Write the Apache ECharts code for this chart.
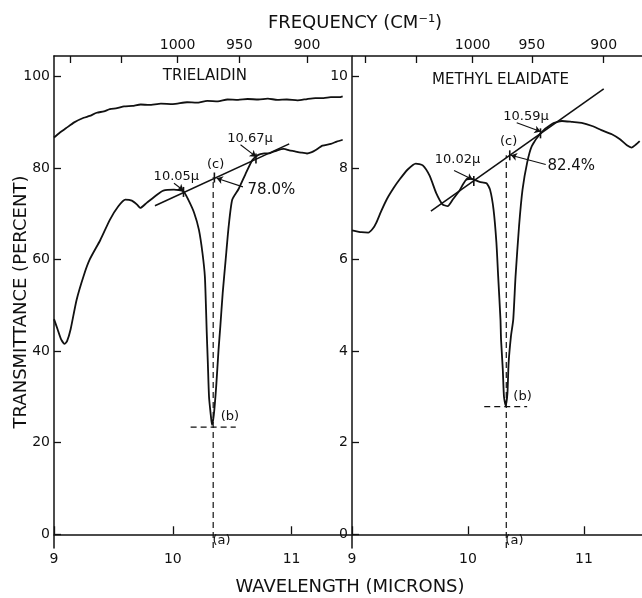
<!DOCTYPE html>
<html>
<head>
<meta charset="utf-8">
<title>Trielaidin / Methyl elaidate IR bands</title>
<script src="https://cdn.jsdelivr.net/npm/echarts@6/dist/echarts.min.js"></script>
<style>
  html, body { margin: 0; padding: 0; background: #fff; }
  #chart { width: 642px; height: 598px; }
</style>
</head>
<body>
<div id="chart"></div>
<script>
// axis ticks
const wavelengthTicks = [9, 10, 11];
const percentTicks = [0, 20, 40, 60, 80, 100];
const methylTicks = [0, 2, 4, 6, 8, 10];
const freqValues = [1100, 1050, 1000, 950, 900];
const freqShown = [1000, 950, 900];
// where each frequency tick sits on the wavelength scale
const freqAtLeft = [9.135, 9.565, 10.04, 10.56, 11.13];
const freqAtRight = [9.11, 9.557, 10.04, 10.55, 11.17];

// Trielaidin (left panel), [wavelength, transmittance %]
const trielaidinBlank = [
  [9.0, 86.7], [9.05, 87.8], [9.1, 88.7], [9.17, 90.0], [9.25, 91.0], [9.3, 91.4],
  [9.36, 92.1], [9.42, 92.4], [9.47, 92.9], [9.53, 93.1], [9.59, 93.5], [9.66, 93.6],
  [9.73, 93.9], [9.8, 93.8], [9.9, 94.1], [10.0, 94.0], [10.12, 94.4], [10.2, 94.3],
  [10.29, 94.7], [10.38, 94.6], [10.46, 95.0], [10.55, 94.9], [10.63, 95.1], [10.72, 95.0],
  [10.8, 95.2], [10.88, 94.9], [10.96, 95.0], [11.05, 94.8], [11.13, 95.1], [11.2, 95.3],
  [11.27, 95.3], [11.33, 95.5], [11.4, 95.5], [11.43, 95.7]
];
const trielaidin = [
  [9.0, 47.0], [9.03, 44.8], [9.06, 42.6], [9.09, 41.6], [9.11, 42.2], [9.14, 44.8],
  [9.19, 51.2], [9.25, 56.5], [9.3, 60.0], [9.39, 64.3], [9.47, 68.7], [9.54, 71.6],
  [9.6, 73.1], [9.655, 72.9], [9.7, 72.0], [9.726, 71.3], [9.78, 72.4], [9.867, 74.2],
  [9.92, 75.1], [10.01, 75.3], [10.09, 74.9], [10.13, 73.1], [10.18, 70.2], [10.22, 66.5],
  [10.25, 61.4], [10.27, 56.3], [10.28, 49.0], [10.285, 44.6], [10.295, 37.4], [10.305, 30.0],
  [10.32, 26.0], [10.33, 23.9], [10.345, 26.0], [10.365, 32.2], [10.385, 40.3], [10.40, 45.4],
  [10.42, 52.7], [10.445, 60.0], [10.47, 67.2], [10.50, 73.1], [10.555, 75.5], [10.61, 78.6],
  [10.67, 81.8], [10.72, 82.9], [10.77, 83.2], [10.82, 83.3], [10.88, 83.9], [10.935, 84.2],
  [10.98, 83.9], [11.02, 83.7], [11.08, 83.4], [11.13, 83.2], [11.17, 83.5], [11.2, 83.9],
  [11.26, 84.9], [11.33, 85.3], [11.38, 85.8], [11.43, 86.2]
];
const trielaidinBaseline = [[9.85, 71.8], [10.98, 85.3]];
const trielaidinCrosses = [[10.09, 74.8], [10.35, 77.95], [10.70, 82.1]];
const trielaidinDrop = [[10.34, -3], [10.34, 78.0]];
const trielaidinFloor = [[10.15, 23.4], [10.53, 23.4]];

// Methyl elaidate (right panel), transmittance on the 0-10 scale
const methyl = [
  [9.0, 6.64], [9.04, 6.62], [9.08, 6.60], [9.14, 6.59], [9.18, 6.68], [9.21, 6.81],
  [9.25, 7.05], [9.30, 7.32], [9.36, 7.57], [9.41, 7.75], [9.48, 7.97], [9.55, 8.10],
  [9.61, 8.06], [9.67, 7.83], [9.725, 7.46], [9.78, 7.21], [9.825, 7.17], [9.87, 7.32],
  [9.925, 7.50], [9.96, 7.66], [10.0, 7.78], [10.04, 7.76], [10.1, 7.70], [10.16, 7.67],
  [10.19, 7.53], [10.22, 7.10], [10.245, 6.37], [10.26, 5.64], [10.28, 4.69], [10.285, 4.25],
  [10.30, 3.60], [10.31, 3.01], [10.325, 2.81], [10.34, 3.08], [10.35, 3.74], [10.37, 4.32],
  [10.39, 4.69], [10.41, 5.64], [10.44, 6.73], [10.47, 7.53], [10.51, 8.12], [10.55, 8.48],
  [10.625, 8.76], [10.72, 8.96], [10.81, 9.03], [10.90, 9.01], [10.98, 8.99], [11.07, 8.92],
  [11.15, 8.83], [11.24, 8.74], [11.31, 8.63], [11.37, 8.50], [11.41, 8.45], [11.45, 8.52],
  [11.48, 8.59]
];
const methylBaseline = [[9.68, 7.06], [11.17, 9.73]];
const methylCrosses = [[10.05, 7.72], [10.36, 8.28], [10.625, 8.76]];
const methylDrop = [[10.33, -0.3], [10.33, 8.28]];
const methylFloor = [[10.14, 2.79], [10.51, 2.79]];

// annotations: [wavelength, value, text]
const trielaidinTitle = [[10.27, 100, 'TRIELAIDIN']];
const trielaidinMicrons = [[10.03, 78.1, '10.05µ'], [10.65, 86.4, '10.67µ']];
const trielaidinPercent = [[10.83, 75.3, '78.0%']];
const trielaidinLetters = [[10.36, 80.7, '(c)'], [10.48, 25.6, '(b)'], [10.41, -1.4, '(a)']];
const trielaidinArrows = [
  [[10.01, 76.7], [10.09, 75.1]],
  [[10.57, 85.1], [10.70, 82.5]],
  [[10.59, 75.9], [10.37, 77.8]]
];

const methylTitle = [[10.28, 9.93, 'METHYL ELAIDATE']];
const methylMicrons = [[9.91, 8.19, '10.02µ'], [10.50, 9.13, '10.59µ']];
const methylPercent = [[10.89, 8.04, '82.4%']];
const methylLetters = [[10.35, 8.59, '(c)'], [10.47, 3.01, '(b)'], [10.40, -0.14, '(a)']];
const methylArrows = [
  [[9.88, 7.95], [10.04, 7.75]],
  [[10.42, 8.99], [10.625, 8.80]],
  [[10.67, 8.08], [10.37, 8.28]]
];

const FONT = 'DejaVu Sans';
const INK = '#111';

const bottomAxis = (gridIndex) => ({
  type: 'value', gridIndex, position: 'bottom', min: 9, max: 11.5,
  axisLine: { lineStyle: { color: INK, width: 1.5 } },
  axisTick: { inside: true, length: 8, lineStyle: { color: INK, width: 1.3 }, customValues: wavelengthTicks },
  axisLabel: { customValues: wavelengthTicks, color: INK, fontSize: 14, fontFamily: FONT, margin: 4 },
  splitLine: { show: false }
});

const topAxis = (gridIndex, positions) => ({
  type: 'value', gridIndex, position: 'top', min: 9, max: 11.5,
  axisLine: { lineStyle: { color: INK, width: 1.5 } },
  axisTick: { inside: true, length: 7, lineStyle: { color: INK, width: 1.3 }, customValues: positions },
  axisLabel: {
    customValues: freqShown.map(f => positions[freqValues.indexOf(f)]),
    formatter: (v) => String(freqValues[positions.indexOf(v)]),
    color: INK, fontSize: 14, fontFamily: FONT, margin: 4
  },
  splitLine: { show: false }
});

const sideAxis = (gridIndex, min, max, ticks) => ({
  type: 'value', gridIndex, min, max,
  axisLine: { show: true, lineStyle: { color: INK, width: 1.5 } },
  axisTick: { show: true, inside: true, length: 7, lineStyle: { color: INK, width: 1.3 }, customValues: ticks },
  axisLabel: { customValues: ticks, color: INK, fontSize: 14, fontFamily: FONT, margin: 4 },
  splitLine: { show: false }
});

// helpers for series on either panel
const curve = (data, xi, yi, extra) => Object.assign({
  type: 'line', xAxisIndex: xi, yAxisIndex: yi, data, showSymbol: false, silent: true,
  smooth: 0.2, lineStyle: { color: INK, width: 1.8 }
}, extra);

const dashed = (data, xi, yi) => curve(data, xi, yi, {
  smooth: false, lineStyle: { color: INK, width: 1.2, type: [6, 4] }
});

const crosses = (data, xi, yi) => ({
  type: 'scatter', xAxisIndex: xi, yAxisIndex: yi, data, silent: true,
  symbol: 'path://M0,0h1v10h-1z', symbolSize: [1.6, 10], itemStyle: { color: INK, opacity: 1 }
});

const texts = (items, xi, yi, fontSize) => ({
  type: 'scatter', xAxisIndex: xi, yAxisIndex: yi, silent: true,
  symbolSize: 1, itemStyle: { color: 'rgba(255,255,255,0)', opacity: 1 },
  data: items.map(d => ({ value: [d[0], d[1]], label: { formatter: d[2] } })),
  label: { show: true, position: 'inside', color: INK, fontSize, fontFamily: FONT, textBorderWidth: 0 }
});

const arrows = (items, xi, yi) => ({
  type: 'lines', coordinateSystem: 'cartesian2d', xAxisIndex: xi, yAxisIndex: yi, silent: true,
  symbol: ['none', 'arrow'], symbolSize: 6,
  lineStyle: { color: INK, width: 1.1, opacity: 1 },
  data: items.map(a => ({ coords: a }))
});

const titleFont = `18px "${FONT}"`;

const option = {
  backgroundColor: '#fff',
  animation: false,
  grid: [
    { left: 54, top: 56, width: 297, height: 492 },
    { left: 352, top: 56, width: 292, height: 492 }
  ],
  xAxis: [
    bottomAxis(0), topAxis(0, freqAtLeft),
    bottomAxis(1), topAxis(1, freqAtRight)
  ],
  yAxis: [
    sideAxis(0, -3, 104.5, percentTicks),
    sideAxis(1, -0.3, 10.45, methylTicks)
  ],
  graphic: [
    { type: 'text', x: 355, y: 23, style: { text: 'FREQUENCY (CM⁻¹)', fill: INK, font: titleFont, align: 'center', verticalAlign: 'middle' } },
    { type: 'text', x: 350, y: 587, style: { text: 'WAVELENGTH (MICRONS)', fill: INK, font: titleFont, align: 'center', verticalAlign: 'middle' } },
    { type: 'text', x: 21, y: 302, rotation: Math.PI / 2, style: { text: 'TRANSMITTANCE (PERCENT)', fill: INK, font: titleFont, align: 'center', verticalAlign: 'middle' } }
  ],
  series: [
    // Trielaidin
    curve(trielaidinBlank, 0, 0),
    curve(trielaidin, 0, 0),
    curve(trielaidinBaseline, 0, 0, { smooth: false, lineStyle: { color: INK, width: 1.6 } }),
    dashed(trielaidinDrop, 0, 0),
    dashed(trielaidinFloor, 0, 0),
    crosses(trielaidinCrosses, 0, 0),
    arrows(trielaidinArrows, 0, 0),
    texts(trielaidinTitle, 0, 0, 15),
    texts(trielaidinMicrons, 0, 0, 13),
    texts(trielaidinPercent, 0, 0, 15),
    texts(trielaidinLetters, 0, 0, 13),
    // Methyl elaidate
    curve(methyl, 2, 1),
    curve(methylBaseline, 2, 1, { smooth: false, lineStyle: { color: INK, width: 1.6 } }),
    dashed(methylDrop, 2, 1),
    dashed(methylFloor, 2, 1),
    crosses(methylCrosses, 2, 1),
    arrows(methylArrows, 2, 1),
    texts(methylTitle, 2, 1, 15),
    texts(methylMicrons, 2, 1, 13),
    texts(methylPercent, 2, 1, 15),
    texts(methylLetters, 2, 1, 13)
  ]
};

const chart = echarts.init(document.getElementById('chart'), null, { renderer: 'canvas' });
chart.setOption(option);
window.addEventListener('resize', () => chart.resize());
</script>
</body>
</html>
